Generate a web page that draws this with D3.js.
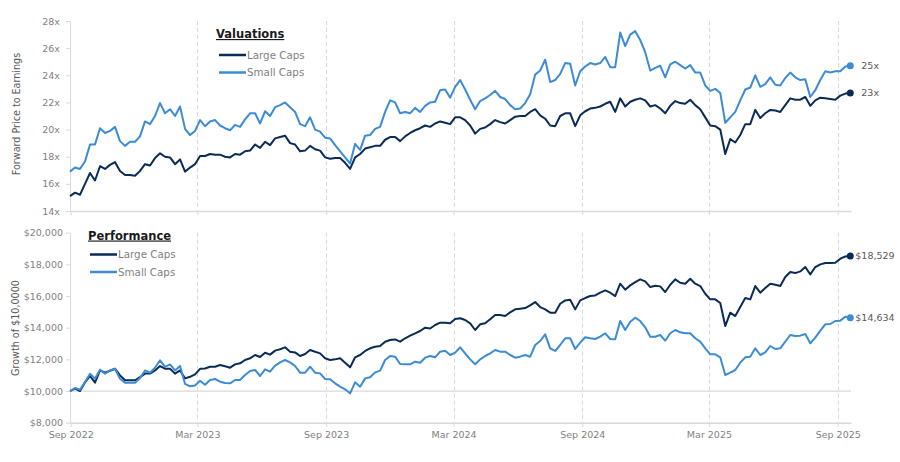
<!DOCTYPE html>
<html>
<head>
<meta charset="utf-8">
<script src="https://cdn.jsdelivr.net/npm/d3@7"></script>
<style>
  body { margin: 0; background: #fff; }
  text { font-family: "DejaVu Sans", sans-serif; }
</style>
</head>
<body>
<svg width="900" height="462"></svg>
<script>
// weekly readings, first and last date of the series
var firstDate = "2022-08-31", lastDate = "2025-09-19";

var dateTicks = ["2022-09-01", "2023-03-01", "2023-09-01", "2024-03-01", "2024-09-01", "2025-03-01", "2025-09-01"];
var dateTickLabels = ["Sep 2022", "Mar 2023", "Sep 2023", "Mar 2024", "Sep 2024", "Mar 2025", "Sep 2025"];
var peTicks = [14, 16, 18, 20, 22, 24, 26, 28];
var growthTicks = [8000, 10000, 12000, 14000, 16000, 18000, 20000];
var seriesNames = ["Large Caps", "Small Caps"];

var largeCapsPE = [15.1, 15.35, 15.2, 16.0, 16.8, 16.25, 17.3, 17.1, 17.4, 17.6,
    16.95, 16.65, 16.65, 16.6, 16.95, 17.45, 17.35, 17.9, 18.25, 18.0,
    17.95, 17.45, 17.8, 16.9, 17.2, 17.45, 18.05, 18.05, 18.2, 18.15,
    18.15, 18.0, 17.95, 18.2, 18.15, 18.4, 18.45, 18.9, 18.65, 19.1,
    18.85, 19.35, 19.45, 19.55, 19.0, 18.9, 18.4, 18.45, 18.8, 18.55,
    18.45, 17.95, 17.85, 17.9, 17.9, 17.55, 17.1, 17.95, 18.2, 18.6,
    18.7, 18.8, 18.8, 19.25, 19.45, 19.45, 19.15, 19.5, 19.75, 19.95,
    20.1, 20.3, 20.2, 20.45, 20.6, 20.5, 20.4, 20.9, 20.9, 20.7,
    20.3, 19.7, 20.05, 20.15, 20.4, 20.7, 20.55, 20.45, 20.7, 20.95,
    21.0, 21.0, 21.3, 21.5, 21.05, 20.8, 20.3, 20.25, 21.0, 21.2,
    21.2, 20.25, 21.05, 21.35, 21.55, 21.6, 21.7, 21.9, 22.05, 21.3,
    22.3, 21.7, 22.05, 22.2, 22.3, 22.15, 21.7, 21.8, 21.55, 21.2,
    21.75, 22.1, 21.95, 21.9, 22.2, 21.8, 21.5, 20.9, 20.3, 20.25,
    20.0, 18.2, 19.3, 19.05, 19.6, 20.4, 20.4, 21.45, 20.85, 21.2,
    21.45, 21.4, 21.3, 21.8, 22.3, 22.2, 22.2, 22.4, 21.75, 22.15,
    22.35, 22.3, 22.25, 22.2, 22.5, 22.65, 22.7];

var smallCapsPE = [16.9, 17.2, 17.1, 17.65, 18.9, 18.9, 20.1, 19.75, 19.9, 20.2,
    19.15, 18.8, 19.1, 19.1, 19.5, 20.6, 20.4, 21.0, 21.95, 21.2,
    21.5, 21.0, 21.7, 20.05, 19.6, 19.9, 20.7, 20.25, 20.6, 20.7,
    20.3, 20.1, 19.95, 20.35, 20.2, 20.75, 21.2, 21.2, 20.45, 21.35,
    21.0, 21.65, 21.8, 22.0, 21.65, 21.3, 20.4, 20.25, 20.9, 20.0,
    19.85, 19.4, 19.35, 18.85, 18.4, 17.95, 17.5, 18.95, 18.5, 19.55,
    19.6, 20.05, 20.2, 21.3, 22.15, 22.0, 21.2, 21.3, 21.2, 21.6,
    21.3, 21.75, 22.0, 22.05, 22.9, 22.95, 22.35, 23.15, 23.65, 22.95,
    22.2, 21.5, 22.1, 22.3, 22.55, 22.85, 22.4, 22.25, 21.8, 21.5,
    21.55, 21.95, 22.6, 24.05, 24.35, 25.15, 23.5, 23.65, 24.1, 24.9,
    24.85, 23.25, 24.3, 24.65, 24.9, 24.8, 24.9, 25.35, 24.6, 24.6,
    27.15, 26.15, 27.0, 27.25, 26.6, 25.7, 24.35, 24.55, 24.7, 23.85,
    24.8, 25.0, 24.75, 24.5, 24.75, 24.2, 24.2, 23.25, 22.85, 23.0,
    22.7, 20.5, 20.9, 21.3, 22.15, 22.95, 23.1, 24.0, 23.15, 23.35,
    23.85, 23.3, 23.25, 23.8, 24.2, 23.85, 23.65, 23.7, 22.4, 22.9,
    23.65, 24.3, 24.2, 24.3, 24.3, 24.65, 24.7];

var largeCapsGrowth = [10000, 10150, 10000, 10550, 10950, 10530, 11300, 11160, 11280, 11410,
    10990, 10680, 10680, 10680, 10880, 11100, 11100, 11300, 11580, 11410,
    11410, 11100, 11300, 10800, 10900, 11050, 11400, 11420, 11537, 11530,
    11640, 11560, 11474, 11684, 11750, 11960, 12066, 12276, 12150, 12420,
    12300, 12550, 12640, 12760, 12485, 12440, 12213, 12340, 12590, 12480,
    12380, 12066, 11960, 12000, 12066, 11790, 11497, 12131, 12276, 12529,
    12699, 12800, 12840, 13116, 13223, 13260, 13116, 13331, 13495, 13647,
    13792, 14000, 13950, 14171, 14316, 14316, 14278, 14550, 14594, 14487,
    14278, 13855, 14215, 14278, 14531, 14802, 14800, 14739, 14973, 15162,
    15200, 15240, 15410, 15620, 15305, 15157, 14947, 14947, 15515, 15725,
    15760, 15157, 15725, 15873, 15999, 16040, 16210, 16357, 16210, 15999,
    16778, 16399, 16673, 16883, 17052, 16925, 16567, 16650, 16610, 16252,
    16715, 17052, 16841, 16780, 17094, 16780, 16631, 16146, 15789, 15789,
    15557, 14105, 14947, 14736, 15305, 15873, 15789, 16631, 16210, 16504,
    16778, 16715, 16631, 17199, 17515, 17450, 17557, 17831, 17367, 17831,
    18000, 18083, 18083, 18104, 18357, 18500, 18529];

var smallCapsGrowth = [10000, 10190, 10080, 10570, 11090, 10780, 11350, 11090, 11300, 11410,
    10780, 10530, 10530, 10530, 10820, 11300, 11160, 11470, 11940, 11520,
    11680, 11300, 11580, 10450, 10300, 10350, 10650, 10400, 10697, 10760,
    10590, 10508, 10487, 10697, 10697, 11013, 11265, 11330, 10950, 11370,
    11220, 11600, 11811, 11960, 11811, 11580, 11160, 11160, 11537, 11160,
    11115, 10760, 10740, 10487, 10275, 10107, 9855, 10550, 10275, 10800,
    10866, 11180, 11290, 11960, 12213, 12170, 11705, 11690, 11690, 11855,
    11790, 12107, 12213, 12128, 12486, 12550, 12276, 12424, 12760, 12380,
    12000, 11690, 12000, 12213, 12380, 12590, 12486, 12486, 12276, 12107,
    12170, 12276, 12169, 12907, 13160, 13583, 12697, 12529, 12907, 13331,
    13331, 12655, 13053, 13394, 13331, 13287, 13432, 13647, 13287, 13268,
    14423, 13855, 14379, 14632, 14423, 14028, 13432, 13432, 13539, 13179,
    13647, 13855, 13710, 13647, 13647, 13331, 13116, 12697, 12320, 12320,
    12129, 11013, 11160, 11328, 11790, 12129, 12169, 12697, 12276, 12445,
    12844, 12655, 12697, 13116, 13539, 13476, 13497, 13602, 13015, 13369,
    13811, 14215, 14234, 14423, 14445, 14695, 14634];

var colors = ["#0b2b57", "#3d8bd3"];
var gridColor = "#d9d9d9";
var labelColor = "#7f7f7f";

var svg = d3.select("svg");
var parse = d3.timeParse("%Y-%m-%d");
var t0 = parse(firstDate), t1 = parse(lastDate);
var n = largeCapsPE.length;
var dates = d3.range(n).map(function(i) { return new Date(+t0 + (t1 - t0) * i / (n - 1)); });
var tickDates = dateTicks.map(parse);

var x = d3.scaleTime()
    .domain([parse("2022-08-31"), parse("2025-09-20")])
    .range([70, 851]);

function drawPanel(opts) {
    var y = opts.y;
    var top = y.range()[1], bottom = y.range()[0];
    var g = svg.append("g");

    // dashed verticals
    g.selectAll(".vgrid")
        .data(tickDates.slice(1))
        .enter().append("line")
        .attr("x1", function(d) { return Math.round(x(d)) + 0.5; })
        .attr("x2", function(d) { return Math.round(x(d)) + 0.5; })
        .attr("y1", top)
        .attr("y2", bottom)
        .attr("stroke", gridColor)
        .attr("stroke-dasharray", "4,3");

    if (opts.baseline != null) {
        g.append("line")
            .attr("x1", x.range()[0]).attr("x2", x.range()[1])
            .attr("y1", y(opts.baseline)).attr("y2", y(opts.baseline))
            .attr("stroke", gridColor).attr("stroke-width", 1.3);
    }

    var xAxis = g.append("g")
        .attr("transform", "translate(0," + bottom + ")")
        .call(d3.axisBottom(x).tickValues(tickDates).tickSize(4).tickSizeOuter(0).tickPadding(5)
            .tickFormat(function(d, i) { return opts.showDates ? dateTickLabels[i] : ""; }));
    xAxis.select(".domain").attr("stroke", gridColor).attr("stroke-width", 1.5);
    xAxis.selectAll(".tick line").attr("stroke", gridColor);
    xAxis.selectAll("text").attr("fill", labelColor).attr("font-size", "9.5px")
        .attr("font-family", "DejaVu Sans");

    var yAxis = g.append("g")
        .attr("transform", "translate(" + x.range()[0] + ",0)")
        .call(d3.axisLeft(y).tickValues(opts.ticks).tickSize(4).tickSizeOuter(0)
            .tickPadding(opts.pad).tickFormat(opts.fmt));
    yAxis.select(".domain").attr("stroke", gridColor);
    yAxis.selectAll(".tick line").attr("stroke", gridColor);
    yAxis.selectAll("text").attr("fill", labelColor).attr("font-size", "9.5px")
        .attr("font-family", "DejaVu Sans");

    var line = d3.line()
        .x(function(d, i) { return x(dates[i]); })
        .y(function(d) { return y(d); });

    opts.series.forEach(function(s, k) {
        g.append("path")
            .attr("d", line(s))
            .attr("fill", "none")
            .attr("stroke", colors[k])
            .attr("stroke-width", 2)
            .attr("stroke-linejoin", "round");
        var last = s[s.length - 1];
        g.append("circle")
            .attr("cx", x(dates[n - 1]))
            .attr("cy", y(last))
            .attr("r", 3.5)
            .attr("fill", colors[k]);
        g.append("text")
            .attr("x", x(dates[n - 1]) + opts.endGap)
            .attr("y", y(last))
            .attr("dy", "0.35em")
            .attr("font-size", "9.5px")
            .attr("fill", "#595959")
            .text(opts.endFmt(last));
    });

    g.append("text")
        .attr("x", opts.titleX)
        .attr("y", opts.titleY)
        .attr("font-size", "11.5px")
        .attr("font-weight", "bold")
        .attr("text-decoration", "underline")
        .attr("fill", "#1a1a1a")
        .text(opts.title);

    seriesNames.forEach(function(name, k) {
        var ly = opts.legendY + k * 17.5;
        g.append("line")
            .attr("x1", opts.legendX).attr("x2", opts.legendX + 27)
            .attr("y1", ly).attr("y2", ly)
            .attr("stroke", colors[k]).attr("stroke-width", 2.5);
        g.append("text")
            .attr("x", opts.legendX + 28)
            .attr("y", ly)
            .attr("dy", "0.35em")
            .attr("font-size", "10.3px")
            .attr("fill", labelColor)
            .text(name);
    });

    g.append("text")
        .attr("transform", "translate(" + opts.yTitleX + "," + opts.yTitleY + ") rotate(-90)")
        .attr("text-anchor", "middle")
        .attr("font-size", "9.6px")
        .attr("fill", "#595959")
        .text(opts.yTitle);
}

drawPanel({
    y: d3.scaleLinear().domain([14, 28]).range([211, 21]),
    ticks: peTicks,
    fmt: function(d) { return d + "x"; },
    pad: 6,
    series: [largeCapsPE, smallCapsPE],
    showDates: false,
    baseline: null,
    endGap: 11,
    endFmt: function(v) { return Math.round(v) + "x"; },
    title: "Valuations", titleX: 216, titleY: 38,
    legendX: 219, legendY: 55,
    yTitle: "Forward Price to Earnings", yTitleX: 20, yTitleY: 114
});

var money = d3.format("$,.0f");
drawPanel({
    y: d3.scaleLinear().domain([8000, 20000]).range([422.7, 232.7]),
    ticks: growthTicks,
    fmt: money,
    pad: 3,
    series: [largeCapsGrowth, smallCapsGrowth],
    showDates: true,
    baseline: 10000,
    endGap: 5,
    endFmt: money,
    title: "Performance", titleX: 88, titleY: 239.5,
    legendX: 90, legendY: 254.5,
    yTitle: "Growth of $10,0000", yTitleX: 19, yTitleY: 328
});
</script>
</body>
</html>
